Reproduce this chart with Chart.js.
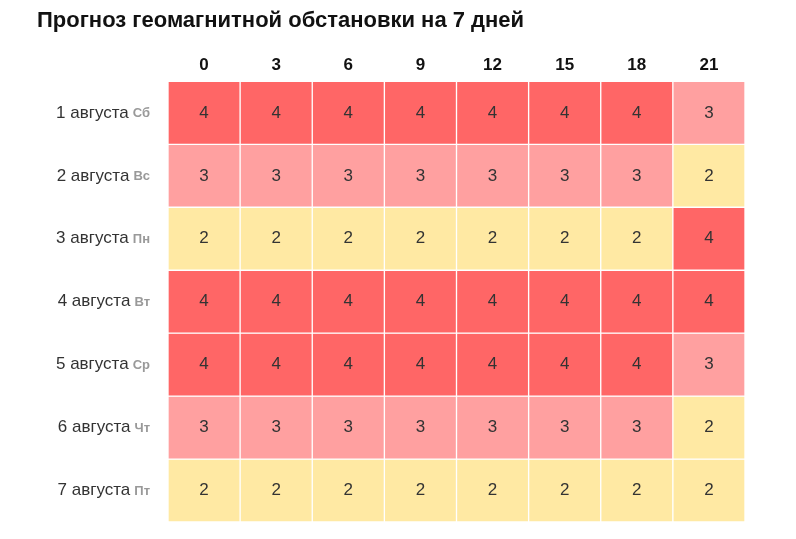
<!DOCTYPE html>
<html><head><meta charset="utf-8">
<script src="https://cdn.jsdelivr.net/npm/chart.js@4"></script>
<style>body{margin:0;background:#fff}#w{position:relative;width:796px;height:539px}</style>
</head><body><div id="w"><canvas id="c"></canvas></div>
<script>
const title = 'Прогноз геомагнитной обстановки на 7 дней';
const hours = ['0', '3', '6', '9', '12', '15', '18', '21'];
const dates = ['1 августа', '2 августа', '3 августа', '4 августа', '5 августа', '6 августа', '7 августа'];
const weekdays = ['Сб', 'Вс', 'Пн', 'Вт', 'Ср', 'Чт', 'Пт'];
const kp = [
  [4, 4, 4, 4, 4, 4, 4, 3],
  [3, 3, 3, 3, 3, 3, 3, 2],
  [2, 2, 2, 2, 2, 2, 2, 4],
  [4, 4, 4, 4, 4, 4, 4, 4],
  [4, 4, 4, 4, 4, 4, 4, 3],
  [3, 3, 3, 3, 3, 3, 3, 2],
  [2, 2, 2, 2, 2, 2, 2, 2]
];
const COLORS = { 2: '#ffe9a3', 3: '#ffa0a0', 4: '#ff6666' };
const FONT = 'Arial, "Liberation Sans", sans-serif';

const cellText = {
  id: 'cellText',
  afterDatasetsDraw(chart) {
    const ctx = chart.ctx;
    const x = chart.scales.x, y = chart.scales.y;
    ctx.save();
    // title, left-aligned to the page
    ctx.textAlign = 'left';
    ctx.textBaseline = 'middle';
    ctx.fillStyle = '#111';
    ctx.font = 'bold 22px ' + FONT;
    ctx.fillText(title, 37, 21);

    ctx.textAlign = 'center';
    ctx.fillStyle = '#333';
    ctx.font = '17px ' + FONT;
    kp.forEach((row, r) => row.forEach((v, i) => {
      ctx.fillText(String(v), x.getPixelForValue(i), y.getPixelForValue(r + 0.5));
    }));
    // row labels: date in dark, weekday in grey bold
    dates.forEach((d, r) => {
      const py = y.getPixelForValue(r + 0.5);
      const right = chart.chartArea.left - 18;
      ctx.font = 'bold 13px ' + FONT;
      const wd = ctx.measureText(weekdays[r]).width;
      ctx.fillStyle = '#999';
      ctx.textAlign = 'right';
      ctx.fillText(weekdays[r], right, py + 1);
      ctx.font = '17px ' + FONT;
      ctx.fillStyle = '#333';
      ctx.fillText(d, right - wd - 4, py);
    });
    ctx.restore();
  }
};

new Chart(document.getElementById('c'), {
  type: 'bar',
  data: {
    labels: hours,
    datasets: kp.map((row, r) => ({
      data: row.map(() => [r, r + 1]),
      backgroundColor: row.map(v => COLORS[v]),
      borderColor: '#fff',
      borderWidth: 1,
      borderSkipped: false,
      barPercentage: 1,
      categoryPercentage: 1,
      grouped: false
    }))
  },
  options: {
    responsive: true,
    maintainAspectRatio: false,
    animation: false,
    layout: { padding: { left: 168, right: 51, bottom: 17, top: 49 } },
    plugins: {
      legend: { display: false },
      tooltip: { enabled: false },
      title: { display: false }
    },
    scales: {
      x: {
        position: 'top',
        grid: { display: false, drawTicks: false },
        border: { display: false },
        ticks: { color: '#111', padding: 6, font: { family: FONT, size: 17, weight: 'bold' } }
      },
      y: { min: 0, max: 7, reverse: true, display: false }
    }
  },
  plugins: [cellText]
});
</script></body></html>
